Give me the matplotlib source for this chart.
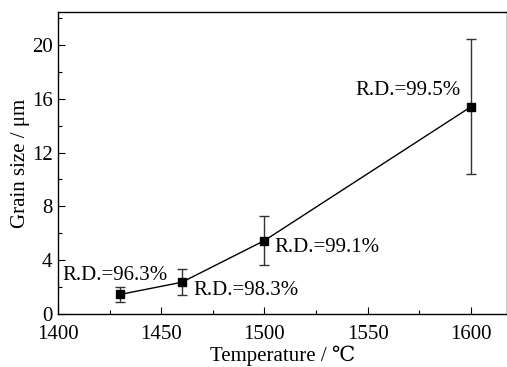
import matplotlib
matplotlib.use("Agg")
import matplotlib.pyplot as plt
from matplotlib.ticker import MultipleLocator

plt.rcParams['font.family'] = ['Liberation Serif', 'DejaVu Serif', 'Noto Sans CJK SC']
plt.rcParams['mathtext.fontset'] = 'stix'

temps = [1430, 1460, 1500, 1600]
grain = [1.45, 2.36, 5.46, 15.4]
err = [0.57, 0.97, 1.83, 5.02]
labels = ["R.D.=96.3%", "R.D.=98.3%", "R.D.=99.1%", "R.D.=99.5%"]
label_pos = [(1401.9, 2.85, 'left'), (1465.4, 1.78, 'left'), (1504.6, 4.98, 'left'), (1595.2, 16.65, 'right')]

fig = plt.figure(figsize=(5.07, 3.67), dpi=100)
ax = fig.add_axes([58/507, 1-314/367, (507-58)/507, (314-12)/367])

ax.errorbar(temps, grain, yerr=err, fmt='s-', color='black', ecolor='#333333',
            markersize=5.8, linewidth=1.0, elinewidth=1.0, capsize=3.6, capthick=1.0)

for (x, y, ha), t in zip(label_pos, labels):
    ax.text(x, y, t, ha=ha, va='center', fontsize=15)

ax.set_xlim(1400, 1617.5)
ax.set_ylim(0, 22.45)
ax.xaxis.set_major_locator(MultipleLocator(50))
ax.xaxis.set_minor_locator(MultipleLocator(25))
ax.yaxis.set_major_locator(MultipleLocator(4))
ax.yaxis.set_minor_locator(MultipleLocator(2))
ax.tick_params(which='both', direction='in', top=False, right=False, labelsize=15, width=0.8)
ax.tick_params(which='major', length=5)
ax.tick_params(axis='x', which='major', pad=8)
ax.tick_params(axis='y', which='major', pad=4)
ax.tick_params(which='minor', length=3)
for s in ax.spines.values():
    s.set_linewidth(1.0)

ax.set_xlabel("Temperature / ℃", fontsize=15, labelpad=1)
ax.set_ylabel("Grain size / μm", fontsize=15, labelpad=1)

fig.savefig("out.png", dpi=100)
